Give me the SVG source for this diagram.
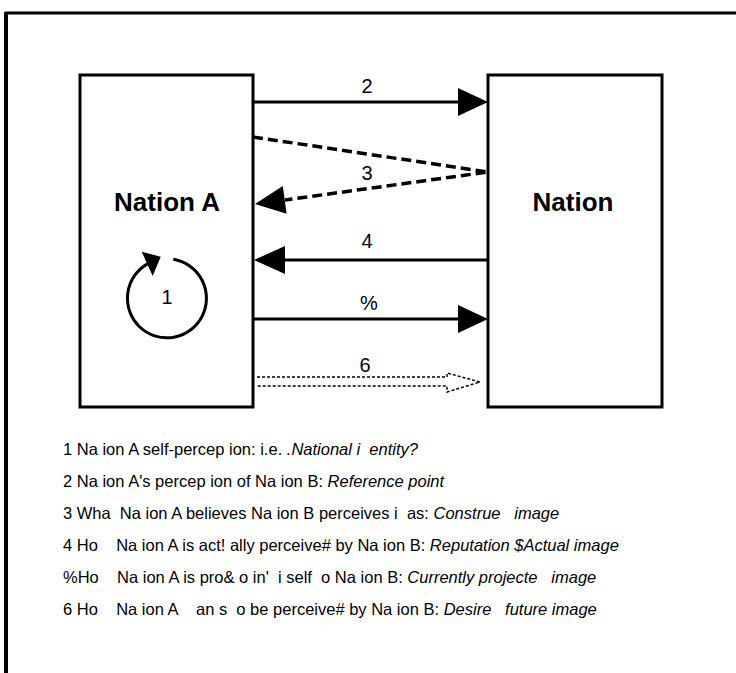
<svg xmlns="http://www.w3.org/2000/svg" width="736" height="673" viewBox="0 0 736 673">
<style>
.box{fill:#fff;stroke:#000;stroke-width:3}
.ln{stroke:#000;stroke-width:3;fill:none}
.dash{stroke:#000;stroke-width:3.5;fill:none;stroke-dasharray:10 5}
.dot{stroke:#000;stroke-width:1.5;fill:none;stroke-dasharray:3 2}
.hd{fill:#000}
.big{font-family:"Liberation Sans",Arial,sans-serif;font-weight:bold;font-size:26px;text-anchor:middle}
.num{font-family:"Liberation Sans",Arial,sans-serif;font-size:20px;text-anchor:middle}
.leg{font-family:"Liberation Sans",Arial,sans-serif;font-size:16.5px;white-space:pre}
.it{font-style:italic}
</style>
<g id="frame">
<path d="M5,13 H736" stroke="#000" stroke-width="3"/>
<path d="M6,12 V673" stroke="#000" stroke-width="4"/>
</g>
<g id="nationA">
<rect class="box" x="80" y="75" width="173" height="332"/>
<text class="big" x="167" y="211">Nation A</text>
</g>
<g id="nationB">
<rect class="box" x="488" y="75" width="174" height="332"/>
<text class="big" x="573" y="211">Nation</text>
</g>
<g id="connectors">
<g id="c1">
<path class="ln" stroke-width="3.5" d="M173.3,259.3 A39.5,39.5 0 1 1 147.5,263.9"/>
<polygon class="hd" points="141.7,251.7 160.7,256.7 152.7,276"/>
<text class="num" x="167" y="304" font-size="18">1</text>
</g>
<g id="c2">
<line class="ln" x1="253" y1="102" x2="460" y2="102"/>
<polygon class="hd" points="458,88 488,102 458,116"/>
<text class="num" x="367" y="93">2</text>
</g>
<g id="c3">
<polyline class="dash" points="253,137 488,172 285,200"/>
<polygon class="hd" points="286.6,213.8 255,204 282.8,186"/>
<text class="num" x="367" y="180">3</text>
</g>
<g id="c4">
<line class="ln" x1="488" y1="260" x2="283" y2="260"/>
<polygon class="hd" points="285,246 254,260 285,274"/>
<text class="num" x="367" y="248">4</text>
</g>
<g id="c5">
<line class="ln" x1="253" y1="319" x2="460" y2="319"/>
<polygon class="hd" points="458,305 488,319 458,333"/>
<text class="num" x="369" y="310">%</text>
</g>
<g id="c6">
<path class="dot" d="M257,377 H447 V373 L480,382 L447,392 V386 H257"/>
<text class="num" x="365" y="372">6</text>
</g>
</g>
<g id="legend">
<text class="leg" x="63" y="455">1 Na ion A self-percep ion: i.e. <tspan class="it">.National i  entity?</tspan></text>
<text class="leg" x="63" y="487">2 Na ion A's percep ion of Na ion B: <tspan class="it">Reference point</tspan></text>
<text class="leg" x="63" y="519">3 Wha  Na ion A believes Na ion B perceives i  as: <tspan class="it">Construe   image</tspan></text>
<text class="leg" x="63" y="551">4 Ho    Na ion A is act! ally perceive# by Na ion B: <tspan class="it">Reputation $Actual image</tspan></text>
<text class="leg" x="63" y="583">%Ho    Na ion A is pro&amp; o in'  i self  o Na ion B: <tspan class="it">Currently projecte   image</tspan></text>
<text class="leg" x="63" y="615">6 Ho    Na ion A    an s  o be perceive# by Na ion B: <tspan class="it">Desire   future image</tspan></text>
</g>
</svg>
